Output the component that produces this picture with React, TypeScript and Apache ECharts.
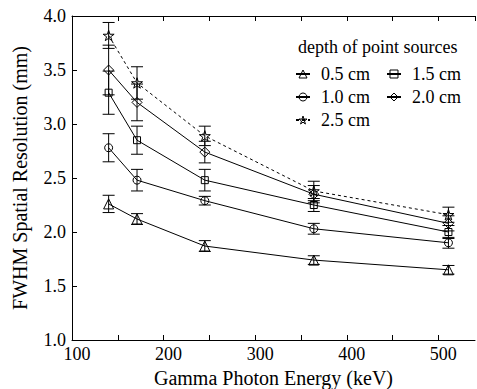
import React, { useEffect, useRef } from "react";
import * as echarts from "echarts";

const energies = [140, 171, 245, 364, 511];
const seriesNames = ["0.5 cm", "1.0 cm", "1.5 cm", "2.0 cm", "2.5 cm"];
const d05 = [2.26, 2.12, 1.87, 1.74, 1.65];
const d10 = [2.78, 2.48, 2.29, 2.03, 1.9];
const d15 = [3.29, 2.85, 2.48, 2.25, 2.0];
const d20 = [3.5, 3.2, 2.74, 2.35, 2.08];
const d25 = [3.82, 3.38, 2.89, 2.38, 2.16];
const e05 = [0.08, 0.05, 0.05, 0.04, 0.04];
const e10 = [0.13, 0.1, 0.04, 0.05, 0.05];
const e15 = [0.2, 0.13, 0.1, 0.06, 0.06];
const e20 = [0.23, 0.17, 0.1, 0.08, 0.07];
const e25 = [0.12, 0.15, 0.09, 0.09, 0.07];
const xTicks = [100, 200, 300, 400, 500];
const yTicks = [1.0, 1.5, 2.0, 2.5, 3.0, 3.5, 4.0];

const FONT = "'Liberation Serif', 'DejaVu Serif', 'Noto Serif', Times, serif";
const STAR =
  "path://M50,0 L61,35 L98,35 L68,57 L79,91 L50,70 L21,91 L32,57 L2,35 L39,35 Z";

export default function App() {
  const ref = useRef<HTMLDivElement>(null);
  useEffect(() => {
    if (!ref.current) return;
    const chart = echarts.init(ref.current, null, { renderer: "svg" });
    const values = [d05, d10, d15, d20, d25];
    const errs = [e05, e10, e15, e20, e25];
    const symbols = ["triangle", "circle", "rect", "diamond", STAR];
    const sizes = [10, 8, 7, 10, 11];
    const hollow = { color: "rgba(255,255,255,0)", borderColor: "#000", borderWidth: 1 };

    const lineSeries = seriesNames.map((name, i) => ({
      name,
      type: "line",
      data: energies.map((x, j) => [x, values[i][j]]),
      symbol: symbols[i],
      symbolSize: sizes[i],
      symbolKeepAspect: true,
      showAllSymbol: true,
      z: 3,
      itemStyle: hollow,
      lineStyle: { color: "#000", width: 1, type: i === 4 ? [3, 3] : "solid" },
      emphasis: { disabled: true },
    }));

    const errSeries = seriesNames.map((name, i) => ({
      type: "custom",
      name: "err" + i,
      z: 2,
      silent: true,
      data: energies.map((x, j) => [x, values[i][j] - errs[i][j], values[i][j] + errs[i][j]]),
      encode: { x: 0, y: [1, 2] },
      renderItem: (params: any, api: any) => {
        const x = api.value(0);
        const lo = api.coord([x, api.value(1)]);
        const hi = api.coord([x, api.value(2)]);
        const w = 6;
        const st = { stroke: "#000", lineWidth: 1 };
        return {
          type: "group",
          children: [
            { type: "line", shape: { x1: lo[0], y1: lo[1], x2: hi[0], y2: hi[1] }, style: st },
            { type: "line", shape: { x1: lo[0] - w, y1: lo[1], x2: lo[0] + w, y2: lo[1] }, style: st },
            { type: "line", shape: { x1: hi[0] - w, y1: hi[1], x2: hi[0] + w, y2: hi[1] }, style: st },
          ],
        };
      },
    }));

    const legendItem = (name: string) => ({
      name,
      itemStyle: { ...hollow },
    });

    const legendBase = {
      orient: "horizontal",
      left: 295,
      padding: 0,
      itemWidth: 14,
      itemHeight: 10,
      itemGap: 16,
      selectedMode: false,
      textStyle: { fontFamily: FONT, fontSize: 18, color: "#000", padding: [0, 0, 0, 6] },
    };

    const axisCommon = {
      type: "value",
      min: 100,
      max: 540,
      interval: 50,
      axisLine: { show: true, lineStyle: { color: "#000", width: 1 } },
      axisTick: { show: true, inside: true, length: 5, lineStyle: { color: "#000" } },
      splitLine: { show: false },
    };

    chart.setOption({
      animation: false,
      backgroundColor: "#fff",
      grid: { left: 72, right: 2, top: 16, bottom: 49, outerBoundsMode: "none", containLabel: false },
      graphic: [
        {
          type: "text",
          left: 298,
          top: 38,
          style: { text: "depth of point sources", font: `18px ${FONT}`, fill: "#000" },
        },
      ],
      legend: [
        { ...legendBase, top: 65, data: [legendItem("0.5 cm"), legendItem("1.5 cm")] },
        { ...legendBase, top: 88, data: [legendItem("1.0 cm"), legendItem("2.0 cm")] },
        { ...legendBase, top: 111, data: [legendItem("2.5 cm")] },
      ],
      xAxis: [
        {
          ...axisCommon,
          position: "bottom",
          name: "Gamma Photon Energy (keV)",
          nameLocation: "middle",
          nameGap: 28,
          nameTextStyle: { fontFamily: FONT, fontSize: 20, color: "#000" },
          axisLabel: {
            margin: 5,
            fontFamily: FONT,
            fontSize: 18,
            color: "#000",
            padding: [0, 0, 0, 10],
            showMaxLabel: false,
            formatter: (v: number) => (xTicks.includes(v) ? String(v) : ""),
          },
        },
        {
          ...axisCommon,
          position: "top",
          axisLabel: { show: false },
        },
      ],
      yAxis: {
        type: "value",
        min: 1,
        max: 4,
        interval: 0.5,
        name: "FWHM Spatial Resolution (mm)",
        nameLocation: "middle",
        nameGap: 42,
        nameTextStyle: { fontFamily: FONT, fontSize: 20, color: "#000" },
        axisLine: { show: true, lineStyle: { color: "#000", width: 1 } },
        axisTick: { show: true, inside: true, length: 5, lineStyle: { color: "#000" } },
        splitLine: { show: false },
        axisLabel: {
          margin: 6,
          fontFamily: FONT,
          fontSize: 18,
          color: "#000",
          formatter: (v: number) => (yTicks.some((t) => Math.abs(t - v) < 1e-6) ? v.toFixed(1) : ""),
        },
      },
      series: [...errSeries, ...lineSeries],
    });
    return () => chart.dispose();
  }, []);
  return <div ref={ref} style={{ width: 477, height: 389, position: "absolute", left: 0, top: 0 }} />;
}
